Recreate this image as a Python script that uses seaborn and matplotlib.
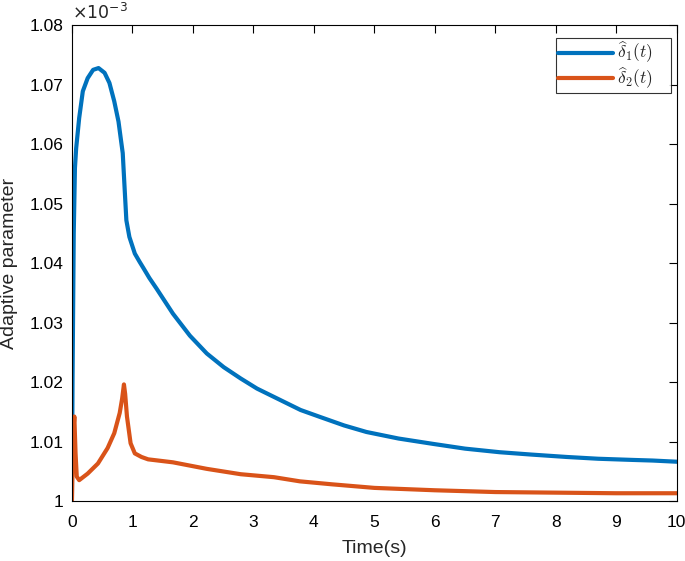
import matplotlib
matplotlib.use('Agg')
import matplotlib.pyplot as plt
import seaborn as sns
import pandas as pd
from matplotlib.ticker import FuncFormatter, MultipleLocator

# values, y in units of 1e-3
t_d1 = [0, 0.01, 0.03, 0.05, 0.07, 0.12, 0.18, 0.26, 0.35, 0.44, 0.54, 0.62, 0.70,
        0.77, 0.82, 0.84, 0.87, 0.90, 0.95, 1.04, 1.12, 1.18, 1.28, 1.40, 1.67, 1.95,
        2.23, 2.51, 2.79, 3.06, 3.34, 3.62, 3.78, 4.11, 4.5, 4.87, 5.4, 5.97, 6.5, 7.07,
        7.6, 8.18, 8.7, 9.28, 9.6, 10]
d1 = [1.000, 1.020, 1.045, 1.056, 1.0593, 1.0644, 1.0689, 1.0711, 1.0725, 1.0728,
      1.0720, 1.0703, 1.0672, 1.0638, 1.0600, 1.0585, 1.0528, 1.0472, 1.0444, 1.0416,
      1.0402, 1.0392, 1.0375, 1.0357, 1.0315, 1.0278, 1.0248, 1.0225, 1.0206, 1.0189,
      1.0175, 1.0161, 1.0153, 1.0141, 1.0127, 1.0116, 1.0105, 1.0096, 1.0088, 1.0082,
      1.0078, 1.0074, 1.0071, 1.0069, 1.0068, 1.0066]

t_d2 = [0, 0.01, 0.025, 0.04, 0.06, 0.08, 0.12, 0.26, 0.43, 0.59, 0.70, 0.79, 0.83,
        0.86, 0.88, 0.91, 0.97, 1.04, 1.15, 1.26, 1.67, 2.23, 2.79, 3.34, 3.77, 4.3,
        5.0, 6.0, 7.0, 8.0, 9.0, 10]
d2 = [1.000, 1.006, 1.012, 1.0142, 1.008, 1.0041, 1.0035, 1.0046, 1.0063, 1.0089,
      1.0114, 1.0148, 1.0172, 1.0196, 1.0180, 1.0142, 1.0097, 1.0080, 1.0074, 1.0070,
      1.0065, 1.0054, 1.0045, 1.0040, 1.0033, 1.0028, 1.0022, 1.0018, 1.0015, 1.0014,
      1.0013, 1.0013]

labels = [r'$\widehat{\delta}_1(t)$', r'$\widehat{\delta}_2(t)$']
colors = ['#0072BD', '#D95319']

sns.set_style('white')
plt.rcParams['font.family'] = ['Liberation Sans', 'DejaVu Sans']
plt.rcParams['mathtext.fontset'] = 'cm'

fig = plt.figure(figsize=(6.85, 5.61), dpi=100)
ax = fig.add_axes([0.105, 0.107, 0.883, 0.848])

sns.lineplot(x=t_d1, y=d1, ax=ax, color=colors[0], lw=3, label=labels[0], sort=False, estimator=None)
sns.lineplot(x=t_d2, y=d2, ax=ax, color=colors[1], lw=3, label=labels[1], sort=False, estimator=None)

ax.set_xlim(0, 10)
ax.set_ylim(1.0, 1.08)
ax.xaxis.set_major_locator(MultipleLocator(1))
ax.yaxis.set_major_locator(MultipleLocator(0.01))
ax.yaxis.set_major_formatter(FuncFormatter(lambda v, p: '%g' % round(v, 4)))
ax.tick_params(direction='in', length=6, width=0.8, top=True, right=True,
               labelsize=12.5, colors='black')
ax.tick_params(axis='x', pad=10)
ax.tick_params(axis='y', pad=6)
for s in ax.spines.values():
    s.set_color('black')
    s.set_linewidth(0.8)

ax.set_xlabel('Time(s)', fontsize=14, labelpad=7)
ax.set_ylabel('Adaptive parameter', fontsize=14, labelpad=8)
ax.text(0.0, 1.004, r'$\times10^{-3}$', transform=ax.transAxes, fontsize=12.5,
        va='bottom', ha='left', family='DejaVu Sans', math_fontfamily='dejavusans')

leg = ax.legend(loc='upper right', bbox_to_anchor=(0.800, 0.870, 0.190, 0.103),
                mode='expand', fontsize=12.5, frameon=True, fancybox=False,
                edgecolor='black', handlelength=3.2, borderaxespad=0,
                borderpad=0.1, labelspacing=0.0, handletextpad=0.2)
leg.get_frame().set_linewidth(0.8)

fig.savefig('out.png', dpi=100)
